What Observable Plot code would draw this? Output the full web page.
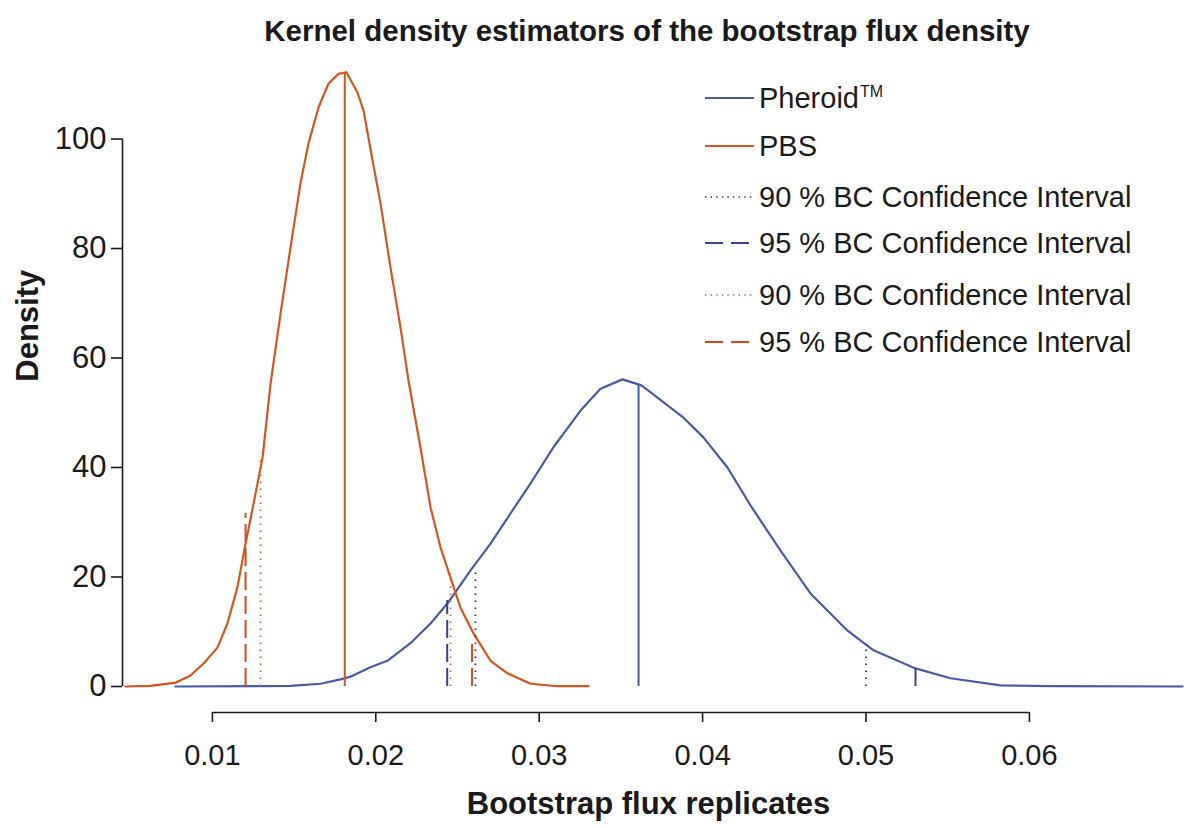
<!DOCTYPE html>
<html>
<head>
<meta charset="utf-8">
<script src="https://cdn.jsdelivr.net/npm/d3@7"></script>
<script src="https://cdn.jsdelivr.net/npm/@observablehq/plot@0.6"></script>
<style>
  html, body { margin: 0; padding: 0; background: #fff; }
  #wrap { position: relative; width: 1186px; height: 828px; font-family: "Liberation Sans", Arial, sans-serif; color: #1a1a1a; }
  #title { height: 50px; box-sizing: border-box; padding-top: 16px; padding-left: 108px; text-align: center;
           font-weight: bold; font-size: 29.5px; line-height: 29.5px; white-space: nowrap; }
  #legend { position: absolute; left: 0; top: 0; }
  .row { position: absolute; left: 704px; height: 40px; display: flex; align-items: center; font-size: 29px; white-space: nowrap; }
  .row svg { margin-right: 5px; }
  .tm { font-size: 16px; position: relative; top: -11px; margin-left: 1px; }
</style>
</head>
<body>
<div id="wrap">
  <div id="title">Kernel density estimators of the bootstrap flux density</div>
  <div id="chart"></div>
  <div id="legend"></div>
</div>
<script>
// Kernel density estimate of the bootstrap flux, Pheroid formulation
const pheroidX = [0.00774,0.01264,0.01478,0.01662,0.01784,0.01845,0.01967,0.02071,0.02212,0.02335,0.02439,0.0258,0.02702,0.02824,0.02947,0.03087,0.03253,0.03375,0.0351,0.03626,0.03883,0.04005,0.04152,0.04293,0.04477,0.0466,0.04887,0.05046,0.05303,0.05517,0.05823,0.0613,0.06937];
const pheroidY = [0,0.05,0.1,0.5,1.3,1.8,3.5,4.7,7.9,11.5,15.2,21.2,26.1,31.6,37.1,43.7,50.4,54.4,56.1,55.0,49.1,45.5,40.0,33.1,24.8,17.0,10.2,6.6,3.3,1.5,0.2,0.05,0];

// Kernel density estimate of the bootstrap flux, PBS
const pbsX = [0.00468,0.00621,0.00774,0.00866,0.00946,0.01031,0.01092,0.01153,0.01203,0.01252,0.01307,0.01356,0.01417,0.01478,0.01539,0.01588,0.0165,0.0171,0.01772,0.0182,0.01888,0.01925,0.0198,0.02029,0.0209,0.02151,0.022,0.02273,0.02335,0.02396,0.02457,0.02518,0.02598,0.02702,0.02806,0.02947,0.03112,0.03302];
const pbsY = [0,0.1,0.7,2.0,4.2,7.1,11.5,18.1,26.1,33.4,41.8,55.3,68.1,80.2,91.9,99.2,105.8,110.1,111.9,112.2,108.5,105.2,96.1,88.2,76.5,65.6,55.9,43.7,32.7,25.4,19.9,14.4,9.7,4.7,2.4,0.5,0.05,0.05];

// Point estimates and bias-corrected bootstrap confidence limits (x) with drawn heights (density)
const pheroidEstimate = [0.03608]; const pheroidEstimateHeight = [55.0];
const pheroidCI90 = [0.02610, 0.05000]; const pheroidCI90Height = [20.8, 6.9];
const pheroidCI95 = [0.02437, 0.05303]; const pheroidCI95Height = [15.7, 3.3];
const pbsEstimate = [0.0181]; const pbsEstimateHeight = [112.0];
const pbsCI90 = [0.01295, 0.02457]; const pbsCI90Height = [41.8, 20.6];
const pbsCI95 = [0.01203, 0.02589]; const pbsCI95Height = [31.6, 8.0];

// Axis ticks and labels
const xTicks = [0.01, 0.02, 0.03, 0.04, 0.05, 0.06];
const yTicks = [0, 20, 40, 60, 80, 100];
const legendLabels = ["Pheroid", "PBS", "90 % BC Confidence Interval", "95 % BC Confidence Interval", "90 % BC Confidence Interval", "95 % BC Confidence Interval"];

const BLUE = "#4a58a6", RED = "#d2561f";
const BLUE_DOT = "#2f3562", BLUE_DASH = "#38428c", RED_DOT = "#c66a36", RED_DASH = "#d24a20";
const DOTS = "1.6,5.4", DASHES = "18,6";

const zip = (xs, ys) => xs.map((x, i) => ({x, y: ys[i]}));
const pheroid = zip(pheroidX, pheroidY);
const pbs = zip(pbsX, pbsY);

const xDomain = [0.004498, 0.069614];
const yBottom = -4.75;

const chart = Plot.plot({
  width: 1186,
  height: 778,
  marginLeft: 122,
  marginRight: 0,
  marginTop: 6.4,
  marginBottom: 116,
  x: {domain: xDomain},
  y: {domain: [yBottom, 115]},
  style: {fontFamily: "'Liberation Sans', Arial, sans-serif", color: "#1a1a1a", background: "#fff"},
  marks: [
    // axes drawn R-style: the lines span only the first to the last tick
    Plot.ruleX([xDomain[0]], {y1: yTicks[0], y2: yTicks[yTicks.length - 1], stroke: "#1a1a1a", strokeWidth: 1.6}),
    Plot.axisY({ticks: yTicks, tickSize: 11, tickPadding: 5, fontSize: 31, label: null, tickFormat: d => String(d), strokeWidth: 1.6}),
    Plot.ruleY([yBottom], {x1: xTicks[0], x2: xTicks[xTicks.length - 1], stroke: "#1a1a1a", strokeWidth: 1.6}),
    Plot.axisX({ticks: xTicks, tickSize: 10, tickPadding: 22, fontSize: 29, label: null, tickFormat: d3.format(".2f"), strokeWidth: 1.6}),

    // density curves
    Plot.line(pheroid, {x: "x", y: "y", stroke: BLUE, strokeWidth: 2.2}),
    Plot.line(pbs, {x: "x", y: "y", stroke: RED, strokeWidth: 2.2}),

    // point estimates
    Plot.ruleX(pheroidEstimate, {x: d => d, y1: 0, y2: (d, i) => pheroidEstimateHeight[i], stroke: BLUE, strokeWidth: 2}),
    Plot.ruleX(pbsEstimate, {x: d => d, y1: 0, y2: (d, i) => pbsEstimateHeight[i], stroke: RED, strokeWidth: 2}),

    // confidence limits
    Plot.ruleX(pheroidCI90, {x: d => d, y1: 0, y2: (d, i) => pheroidCI90Height[i], stroke: BLUE_DOT, strokeWidth: 1.8, strokeDasharray: DOTS}),
    Plot.ruleX(pheroidCI95, {x: d => d, y1: 0, y2: (d, i) => pheroidCI95Height[i], stroke: BLUE_DASH, strokeWidth: 2, strokeDasharray: DASHES}),
    Plot.ruleX(pbsCI90, {x: d => d, y1: 0, y2: (d, i) => pbsCI90Height[i], stroke: RED_DOT, strokeWidth: 1.8, strokeDasharray: DOTS}),
    Plot.ruleX(pbsCI95, {x: d => d, y1: 0, y2: (d, i) => pbsCI95Height[i], stroke: RED_DASH, strokeWidth: 2, strokeDasharray: DASHES}),

    // axis titles
    Plot.text(["Bootstrap flux replicates"], {frameAnchor: "bottom", text: d => d, dy: 101, dx: -6, fontSize: 31, fontWeight: "bold", fill: "#1a1a1a"}),
    Plot.text(["Density"], {frameAnchor: "left", text: d => d, rotate: -90, dx: -94, dy: -3, fontSize: 31, fontWeight: "bold", fill: "#1a1a1a"})
  ]
});
document.getElementById("chart").appendChild(chart);

// legend
const legendStyles = [
  {stroke: BLUE, dash: null, width: 1.8},
  {stroke: RED, dash: null, width: 1.8},
  {stroke: BLUE_DOT, dash: "1.4,4.2", width: 1.6},
  {stroke: BLUE_DASH, dash: "18,8", width: 1.8},
  {stroke: RED_DOT, dash: "1.4,4.2", width: 1.6},
  {stroke: RED_DASH, dash: "18,8", width: 1.8}
];
const rowCentres = [98, 146, 197, 243, 295, 342];
const legend = document.getElementById("legend");
legendLabels.forEach((label, i) => {
  const row = document.createElement("div");
  row.className = "row";
  row.style.top = (rowCentres[i] - 20) + "px";
  const s = legendStyles[i];
  row.innerHTML =
    `<svg width="50" height="40"><line x1="1" x2="50" y1="20" y2="20" stroke="${s.stroke}" stroke-width="${s.width}"${s.dash ? ` stroke-dasharray="${s.dash}"` : ""}/></svg>` +
    `<span>${label}${i === 0 ? '<span class="tm">TM</span>' : ""}</span>`;
  legend.appendChild(row);
});
</script>
</body>
</html>
